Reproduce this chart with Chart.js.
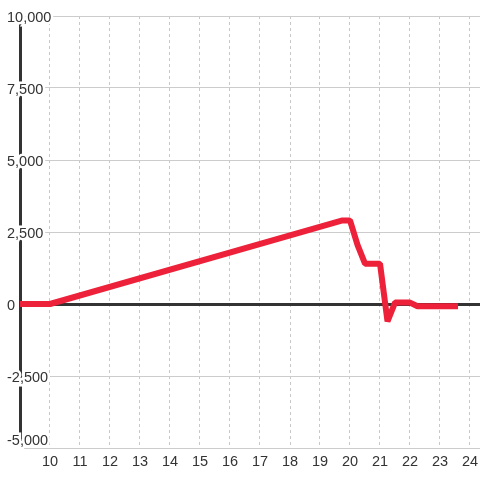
<!DOCTYPE html>
<html>
<head>
<meta charset="utf-8">
<script src="https://cdn.jsdelivr.net/npm/chart.js@4"></script>
<style>
    html, body { margin: 0; padding: 0; background: #fff; }
    #wrap { width: 480px; height: 480px; }
</style>
</head>
<body>
<div id="wrap"><canvas id="lineChart"></canvas></div>
<script>
// hour of day -> value
const hours  = [9, 10, 19.75, 20, 20.25, 20.5, 21, 21.25, 21.5, 22, 22.25, 23.5];
const values = [0, 0, 2900, 2900, 2050, 1400, 1400, -600, 50, 50, -80, -80];

const xMin = 9;
const xMax = 9 + 460 / 30;   // axis runs off the right edge
const yMin = -5000;
const yMax = 10000;

const lineColor = "#ed2139";
const textColor = "#333";
const font = { family: "'Liberation Sans', Arial, sans-serif", size: 14.5 };

function yLabel(v) {
    if (v % 2500 !== 0) return "";
    const s = v.toLocaleString("en-US");
    // bottom label sits a little above its line
    return v === yMin ? [s, ""] : s;
}

document.addEventListener("DOMContentLoaded", () => {
    const ctx = document.getElementById("lineChart").getContext("2d");

    new Chart(ctx, {
        type: "line",
        data: {
            datasets: [{
                data: hours.map((h, i) => ({ x: h, y: values[i] })),
                borderColor: lineColor,
                borderWidth: 6,
                borderCapStyle: "square",
                borderJoinStyle: "bevel",
                pointRadius: 0,
                tension: 0,
                fill: false
            }]
        },
        options: {
            responsive: true,
            maintainAspectRatio: false,
            animation: false,
            layout: { padding: { top: 16, left: 0, right: 0, bottom: 0 } },
            plugins: {
                legend: { display: false },
                tooltip: { enabled: false }
            },
            scales: {
                x: {
                    type: "linear",
                    min: xMin,
                    max: xMax,
                    afterFit: (scale) => {
                        scale.height = 32;
                        scale.paddingLeft = 0;
                        scale.paddingRight = 0;
                    },
                    grid: { color: "#c8c8c8", lineWidth: 1, drawTicks: false },
                    border: { display: false, dash: [3, 3] },
                    ticks: {
                        stepSize: 1,
                        includeBounds: false,
                        autoSkip: false,
                        maxRotation: 0,
                        padding: 5,
                        color: textColor,
                        font: font,
                        callback: (v) => (v === 9 ? "" : v)
                    }
                },
                y: {
                    min: yMin,
                    max: yMax,
                    afterFit: (scale) => {
                        scale.width = 20;
                        scale.paddingTop = 0;
                        scale.paddingBottom = 0;
                    },
                    grid: {
                        drawTicks: false,
                        color: (c) => (c.tick && c.tick.value === 0 ? "#333" : "#cccccc"),
                        lineWidth: (c) => (c.tick && c.tick.value === 0 ? 3 : 1)
                    },
                    border: { display: true, color: "#333", width: 3 },
                    ticks: {
                        stepSize: 1250,
                        mirror: true,
                        padding: -13,
                        labelOffset: 1.5,
                        z: 1,
                        color: textColor,
                        font: font,
                        textStrokeColor: "#fff",
                        textStrokeWidth: 5,
                        callback: yLabel
                    }
                }
            }
        }
    });
});
</script>
</body>
</html>
